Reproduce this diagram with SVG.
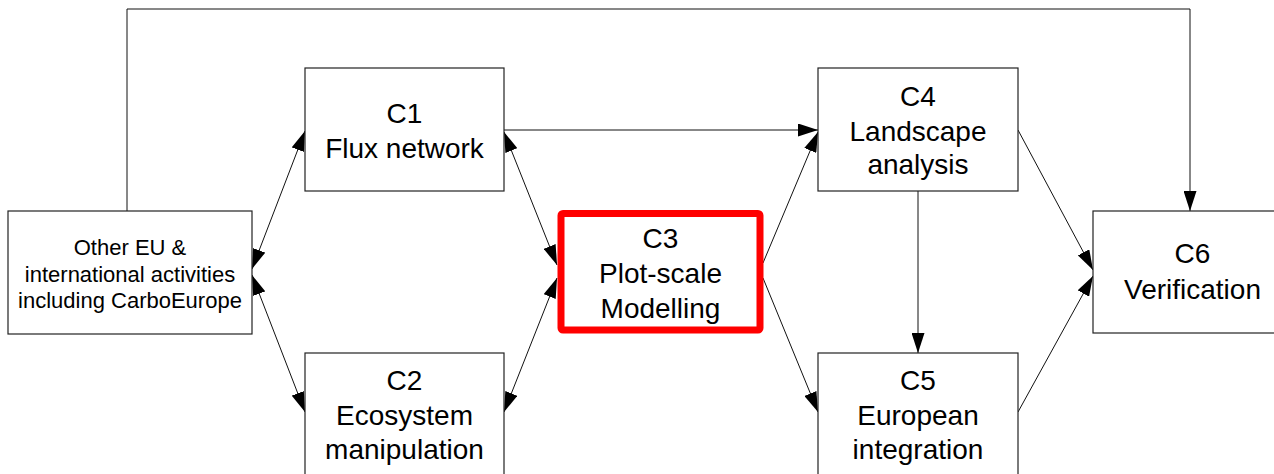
<svg xmlns="http://www.w3.org/2000/svg" width="1274" height="474" viewBox="0 0 1274 474">
<style>
.box{fill:#fff;stroke:#222;stroke-width:1.2}
.hl{fill:#fff;stroke:#ff0000;stroke-width:7;stroke-linejoin:round}
.t{font-family:"Liberation Sans",Arial,sans-serif;font-size:28px;fill:#000;text-anchor:middle}
.s{font-family:"Liberation Sans",Arial,sans-serif;font-size:22px;fill:#000;text-anchor:middle}
.c{fill:none;stroke:#111;stroke-width:1}
</style>
<defs>
<marker id="ah" markerUnits="userSpaceOnUse" markerWidth="20" markerHeight="13" refX="20" refY="6.5" orient="auto-start-reverse">
<path d="M0,0 L20,6.5 L0,13 z" fill="#000"/>
</marker>
</defs>
<g id="connectors">
<polyline class="c" points="127,211 127,9 1190,9 1190,211" marker-end="url(#ah)"/>
<line class="c" x1="252" y1="269" x2="305" y2="131" marker-start="url(#ah)" marker-end="url(#ah)"/>
<line class="c" x1="252" y1="275" x2="305" y2="412" marker-start="url(#ah)" marker-end="url(#ah)"/>
<line class="c" x1="504" y1="132" x2="557" y2="265" marker-start="url(#ah)" marker-end="url(#ah)"/>
<line class="c" x1="504" y1="412" x2="557" y2="278" marker-start="url(#ah)" marker-end="url(#ah)"/>
<line class="c" x1="504" y1="130" x2="818" y2="130" marker-end="url(#ah)"/>
<line class="c" x1="763" y1="263" x2="818" y2="132" marker-end="url(#ah)"/>
<line class="c" x1="763" y1="278" x2="818" y2="412" marker-end="url(#ah)"/>
<line class="c" x1="918" y1="191" x2="918" y2="353" marker-end="url(#ah)"/>
<line class="c" x1="1018" y1="130" x2="1093" y2="270" marker-end="url(#ah)"/>
<line class="c" x1="1018" y1="412" x2="1093" y2="276" marker-end="url(#ah)"/>
</g>
<g id="other">
<rect class="box" x="8" y="211" width="244" height="123"/>
<text class="s" x="130" y="255">Other EU &amp;</text>
<text class="s" x="130" y="281.5">international activities</text>
<text class="s" x="130" y="308">including CarboEurope</text>
</g>
<g id="c1">
<rect class="box" x="305" y="68" width="199" height="123"/>
<text class="t" x="404.5" y="123">C1</text>
<text class="t" x="404.5" y="158">Flux network</text>
</g>
<g id="c2">
<rect class="box" x="305" y="353" width="199" height="123"/>
<text class="t" x="404.5" y="390">C2</text>
<text class="t" x="404.5" y="424.5">Ecosystem</text>
<text class="t" x="404.5" y="459">manipulation</text>
</g>
<g id="c3">
<rect class="hl" x="561" y="213.5" width="199" height="116.5" rx="2"/>
<text class="t" x="660.5" y="248">C3</text>
<text class="t" x="660.5" y="283">Plot-scale</text>
<text class="t" x="660.5" y="318">Modelling</text>
</g>
<g id="c4">
<rect class="box" x="818" y="68" width="200" height="123"/>
<text class="t" x="918" y="106">C4</text>
<text class="t" x="918" y="140.5">Landscape</text>
<text class="t" x="918" y="174">analysis</text>
</g>
<g id="c5">
<rect class="box" x="818" y="353" width="200" height="123"/>
<text class="t" x="918" y="390">C5</text>
<text class="t" x="918" y="425">European</text>
<text class="t" x="918" y="459">integration</text>
</g>
<g id="c6">
<rect class="box" x="1093" y="211" width="199" height="122"/>
<text class="t" x="1192.5" y="263">C6</text>
<text class="t" x="1192.5" y="299">Verification</text>
</g>
</svg>
